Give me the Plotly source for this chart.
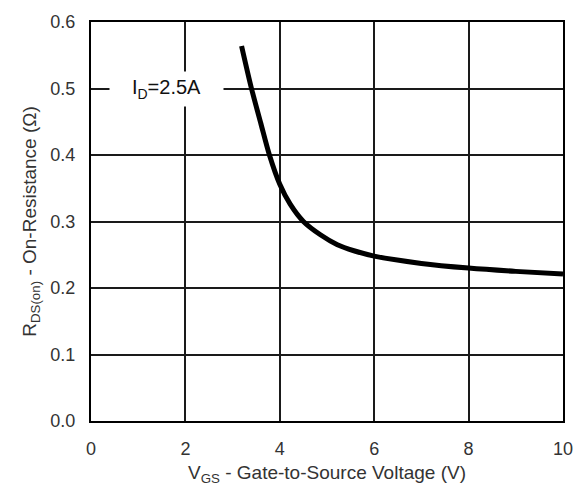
import plotly.graph_objects as go

# On-resistance vs gate-to-source voltage, ID = 2.5 A
vgs = [3.19, 3.40, 3.60, 3.78, 4.00, 4.22, 4.50, 4.86, 5.22, 5.57, 6.00, 7.00, 8.00, 9.00, 10.00]
rds_on = [0.564, 0.500, 0.447, 0.400, 0.356, 0.326, 0.300, 0.280, 0.265, 0.256, 0.248, 0.237, 0.230, 0.225, 0.221]

x_ticks = [0, 2, 4, 6, 8, 10]
y_ticks = [0.0, 0.1, 0.2, 0.3, 0.4, 0.5, 0.6]
y_tick_text = ["0.0", "0.1", "0.2", "0.3", "0.4", "0.5", "0.6"]

tick_font = dict(family="Liberation Sans, Arial, sans-serif", size=18, color="#333333")
title_font = dict(family="Liberation Sans, Arial, sans-serif", size=19, color="#333333")

fig = go.Figure()
fig.add_trace(go.Scatter(
    x=vgs, y=rds_on, mode="lines",
    line=dict(color="black", width=5, shape="spline", smoothing=0.8),
    showlegend=False, hoverinfo="skip",
))

fig.add_annotation(
    x=1.6, y=0.5, xref="x", yref="y",
    text="I<sub>D</sub>=2.5A", showarrow=False,
    font=dict(family="Liberation Sans, Arial, sans-serif", size=20, color="#111111"),
    bgcolor="white", width=109, height=30, borderpad=2,
)

axis_common = dict(
    showgrid=True, gridcolor="#1a1a1a", gridwidth=1.6,
    showline=True, linecolor="black", linewidth=2.2, mirror=True,
    zeroline=False, ticks="outside", tickcolor="rgba(0,0,0,0)",
    tickfont=tick_font,
)

fig.update_xaxes(
    range=[0, 10], tickvals=x_ticks, ticklen=10,
    title=dict(text="V<sub>GS</sub> - Gate-to-Source Voltage (V)", font=title_font, standoff=8),
    **axis_common,
)
fig.update_yaxes(
    range=[0, 0.6], tickvals=y_ticks, ticktext=y_tick_text, ticklen=10,
    title=dict(text="R<sub>DS(on)</sub> - On-Resistance (\u03a9)", font=title_font, standoff=9),
    **axis_common,
)

fig.update_layout(
    width=586, height=492,
    margin=dict(l=91, r=23, t=13, b=69),
    paper_bgcolor="white", plot_bgcolor="white",
)

fig.write_html("out.html")
